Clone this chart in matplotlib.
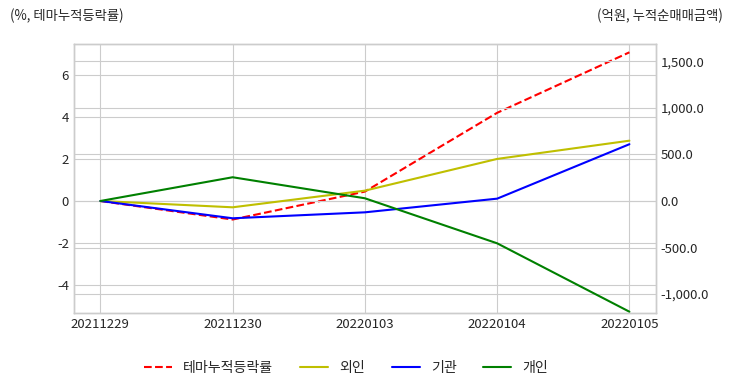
import numpy as np
import matplotlib.pyplot as plt
from matplotlib.ticker import FuncFormatter

plt.style.use('seaborn-v0_8-whitegrid')
plt.rcParams['font.family'] = ['Noto Sans CJK KR', 'DejaVu Sans']
plt.rcParams['axes.unicode_minus'] = False

dates = ['20211229', '20211230', '20220103', '20220104', '20220105']
theme_rate = [0.0, -0.88, 0.45, 4.2, 7.08]      # %, left axis
foreign = [0.0, -68, 111, 452, 648]              # 억원, right axis
institution = [0.0, -186, -122, 25, 610]
individual = [0.0, 255, 29, -455, -1190]

fig = plt.figure(figsize=(7.32, 3.92), dpi=100)
ax = fig.add_subplot()
fig.subplots_adjust(left=0.101, right=0.896, top=0.888, bottom=0.2015)

x = np.arange(len(dates))
l1, = ax.plot(x, theme_rate, c='r', ls='--', lw=1.5, label='테마누적등락률')
ax.set_ylim(-5.33, 7.48)
ax.set_yticks([-4, -2, 0, 2, 4, 6])

ax2 = ax.twinx()
l2, = ax2.plot(x, foreign, c='y', lw=1.5, label='외인')
l3, = ax2.plot(x, institution, c='b', lw=1.5, label='기관')
l4, = ax2.plot(x, individual, c='g', lw=1.5, label='개인')
ax2.set_ylim(-1204, 1688)
ax2.set_yticks([-1000, -500, 0, 500, 1000, 1500])
ax2.yaxis.set_major_formatter(FuncFormatter(lambda v, p: f'{v:,.1f}'))

ax.set_xticks(x)
ax.set_xticklabels(dates)
ax.set_xlim(-0.2, 4.2)

for a in (ax, ax2):
    a.tick_params(labelsize=9.5, colors='.15')

fig.text(0.013, 0.96, '(%, 테마누적등락률)', fontsize=9.6, color='.15', va='center')
fig.text(0.987, 0.96, '(억원, 누적순매매금액)', fontsize=9.6, color='.15', va='center', ha='right')

fig.legend(handles=[l1, l2, l3, l4], loc='center', bbox_to_anchor=(0.473, 0.062),
           ncol=4, frameon=False, fontsize=10.1, columnspacing=1.9)

fig.savefig('out.png', dpi=100)
